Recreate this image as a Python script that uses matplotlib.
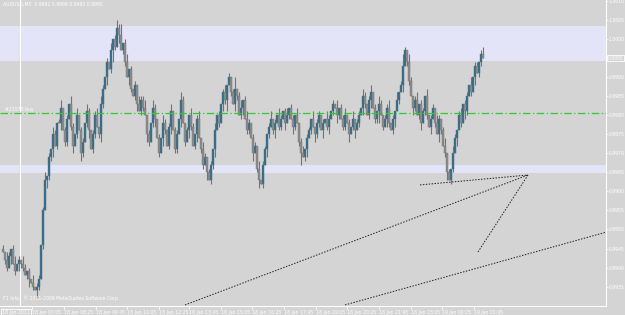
import numpy as np
import matplotlib
matplotlib.use("Agg")
import matplotlib.pyplot as plt

#  Price data, M5 bars, in pips above 0.9900
base = 0.9900
first_open = 45
close_pips = [
    44, 42, 40, 43, 45, 41, 39, 41, 42, 41, 40, 38, 39, 37, 36, 35, 34, 35, 37,
    46, 55, 63, 64, 69, 71, 75, 72, 78,
    78, 82, 76, 73, 79, 83, 77, 72, 75, 80, 76, 70, 73, 78, 81, 76, 71, 75, 80, 77, 75,
    83, 87, 90, 94, 92, 97, 100, 98, 103, 101,
    97, 99, 94, 90, 92, 87, 85, 88, 83, 81, 84, 82,
    80, 75, 73, 78, 82, 79, 74, 70, 74, 78, 76, 72, 77, 81, 76, 71, 75, 79, 84, 78, 73, 76, 80, 77, 72, 75, 79, 74,
    71, 67, 69, 65, 63, 67, 71, 76,
    80, 78, 83, 86, 84, 88, 90, 86, 83, 87, 85, 80, 82, 84, 79, 76, 78,
    74, 70, 72, 66, 63, 62, 67, 71,
    75, 77, 79, 76, 78, 80, 77,
    79, 81, 78, 80, 82, 79, 77, 80, 78,
    73, 70, 69, 71, 74,
    76, 79, 77, 75, 78, 80, 76, 78, 79, 77, 79,
    81, 83, 82, 80, 82,
    79, 77, 80, 78, 75, 77, 79, 76, 78, 80,
    82, 85, 83, 80, 84, 86, 82, 79, 81, 83,
    80, 77, 79, 82, 78, 76, 79, 81, 84, 86,
    88, 93, 97, 94, 89, 85, 82, 84,
    80, 83, 78, 81, 85, 80, 77, 79, 82, 78, 75, 79, 76, 72, 70,
    65, 63, 66, 70, 74,
    76, 80, 78, 83, 81, 85, 88, 86, 90, 93, 91, 94, 96, 95,
]
#  Wick lengths in pips, one digit per bar
up_wick = ("1021012010210102011012010210120110210201102101120210102012130120101021"
           "1201021010210120110210102101202101102010120101301201210110201101201021"
           "0120110201201102011010210102011201020110210120102101120102013102101201"
           "10201102101201021012011020110121010201120")
dn_wick = ("0110201021101201021010211201020110120102101201101210201310201102101201"
           "1021012010210120110201021012011020112010213010210120110201201021012011"
           "0201021013012010211020120102101102012010210120113010210120102011021012"
           "01102010210120110201021010201102101201021")

price_ticks = [1.0010, 1.0005, 1.0000, 0.9995, 0.9990, 0.9985, 0.9980, 0.9975,
               0.9970, 0.9965, 0.9960, 0.9955, 0.9950, 0.9945, 0.9940, 0.9935]
time_ticks = [14.5, 30.5, 46.5, 62, 78, 93, 109, 124.5, 140.5, 156.5, 172, 188, 204, 219.5, 235.5]
time_labels = ["18 Jan 07:05", "18 Jan 08:25", "18 Jan 09:45", "18 Jan 11:05", "18 Jan 12:25",
               "18 Jan 13:45", "18 Jan 15:05", "18 Jan 16:25", "18 Jan 17:45", "18 Jan 19:05",
               "18 Jan 20:25", "18 Jan 21:45", "18 Jan 23:05", "19 Jan 00:25", "19 Jan 01:45"]

upper_zone = (0.99942, 1.00035)
lower_zone = (0.99649, 0.99669)
order_level = 0.99806
current_price = 0.9995
trend_lines = [
    ((91, 0.99302), (262.5, 0.99643)),
    ((208.5, 0.99617), (262.5, 0.99643)),
    ((237.5, 0.99441), (262.5, 0.99643)),
    ((171, 0.99302), (301.5, 0.99493)),
]

bg = "#d4d4d4"
fs = 3.3
fig = plt.figure(figsize=(6.25, 3.15), dpi=100)
fig.patch.set_facecolor(bg)
ax = fig.add_axes([0, 9 / 315, 606 / 625, 306 / 315])
ax.set_facecolor(bg)

closes = base + np.array(close_pips) / 10000
opens = np.r_[base + first_open / 10000, closes[:-1]]
n = len(closes)
up = np.array([int(c) for c in up_wick[:n]]) / 10000
dn = np.array([int(c) for c in dn_wick[:n]]) / 10000
highs = np.maximum(opens, closes) + up
lows = np.minimum(opens, closes) - dn
x = np.arange(n)

#  Zones
ax.axhspan(*upper_zone, color="#e4e4f8", zorder=1, lw=0)
ax.axhspan(*lower_zone, color="#e4e4f8", zorder=1, lw=0)

#  Separator
ax.axvline(8.5, color="white", lw=0.8, zorder=1.5)

#  Candles
ax.vlines(x, lows, highs, color="#747474", lw=0.8, zorder=2)
bull = closes > opens
body_lo = np.minimum(opens, closes)
body_h = np.maximum(np.abs(closes - opens), 0.00002)
ax.bar(x[bull], body_h[bull], bottom=body_lo[bull], width=0.8,
       color="#22729a", edgecolor="#6a6a6a", lw=0.3, zorder=3)
ax.bar(x[~bull], body_h[~bull], bottom=body_lo[~bull], width=0.8,
       color="#8c8c8c", edgecolor="#747474", lw=0.3, zorder=3)

#  Order line
ax.axhline(order_level, color="#2ecc2e", lw=0.9, ls=(0, (6, 2, 1, 2)), zorder=4)
ax.text(1, order_level + 0.00004, "#21570 buy", color="white", fontsize=fs, zorder=5)

#  Trend lines
for (x0, y0), (x1, y1) in trend_lines:
    ax.plot([x0, x1], [y0, y1], color="#202020", lw=0.7, ls=(0, (1.5, 1.5)), zorder=4)

ax.set_xlim(-1.5, 301.5)
ax.set_ylim(0.9929921, 1.0010236)

for s in ax.spines.values():
    s.set_color("white")
    s.set_linewidth(0.8)
ax.spines["left"].set_visible(False)
ax.spines["top"].set_visible(False)

#  Price scale; the current price box replaces its own tick label
ax.yaxis.tick_right()
ax.set_yticks(price_ticks)
ax.set_yticklabels(["" if abs(v - current_price) < 1e-6 else f"{v:.4f}" for v in price_ticks])
ax.tick_params(axis="y", colors="white", labelsize=fs, length=1.5, width=0.6, pad=0.5)
ax.set_xticks(time_ticks)
ax.set_xticklabels(time_labels, ha="left")
ax.tick_params(axis="x", colors="white", labelsize=fs, length=2, width=0.6, pad=1)

#  Current price box
ax.text(1.003, current_price, f"{current_price:.4f}", transform=ax.get_yaxis_transform(),
        color="white", fontsize=fs, va="center", ha="left",
        bbox=dict(boxstyle="square,pad=0.15", fc=bg, ec="white", lw=0.6), zorder=6, clip_on=False)
ax.text(0.004, -0.012, "18 Jan 2011", transform=ax.transAxes, color="white", fontsize=fs,
        va="top", ha="left", bbox=dict(boxstyle="square,pad=0.25", fc=bg, ec="white", lw=0.6),
        zorder=6, clip_on=False)

ax.text(0.005, 0.995, "AUDUSD,M5  0.9992 0.9996 0.9992 0.9995", transform=ax.transAxes,
        color="white", fontsize=fs, va="top", ha="left")
ax.text(0.005, 0.015, "F1 Info,  \u00a9 2001-2009 MetaQuotes Software Corp.", transform=ax.transAxes,
        color="white", fontsize=fs, va="bottom", ha="left")

fig.savefig("out.png", dpi=100, facecolor=bg)
